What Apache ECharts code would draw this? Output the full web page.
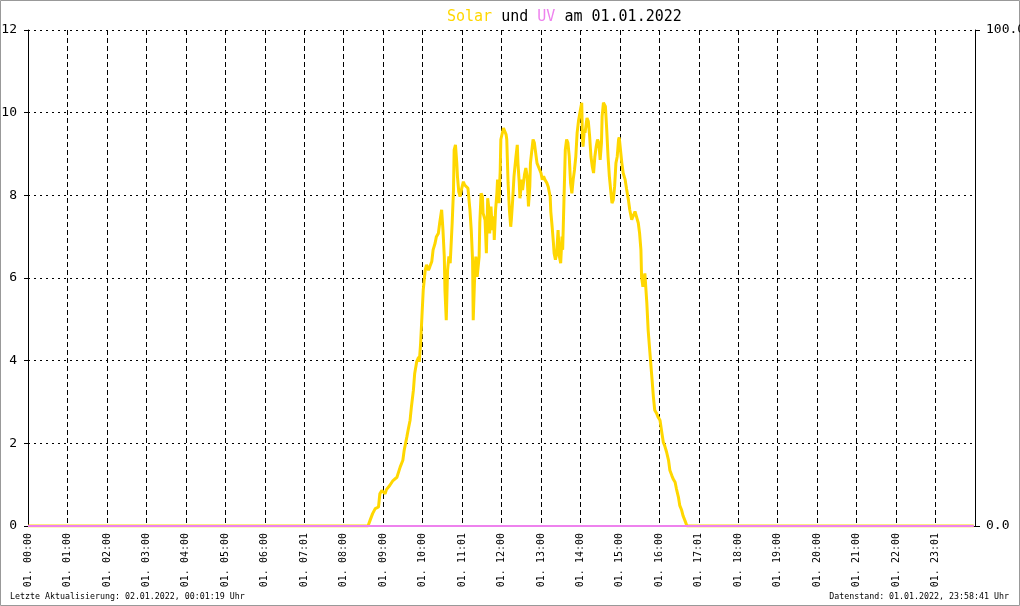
<!DOCTYPE html>
<html>
<head>
<meta charset="utf-8">
<script src="https://cdn.jsdelivr.net/npm/echarts@6/dist/echarts.min.js"></script>
<style>
html,body{margin:0;padding:0;background:#fff;}
#chart{width:1020px;height:606px;}
</style>
</head>
<body>
<div id="chart"></div>
<script>
// ---- data ----
const tickLabels = ["01. 00:00","01. 01:00","01. 02:00","01. 03:00","01. 04:00","01. 05:00","01. 06:00","01. 07:01","01. 08:00","01. 09:00","01. 10:00","01. 11:01","01. 12:00","01. 13:00","01. 14:00","01. 15:00","01. 16:00","01. 17:01","01. 18:00","01. 19:00","01. 20:00","01. 21:00","01. 22:00","01. 23:01"];
const solarTimes = ["00:00","08:37","08:40","08:44","08:48","08:53","08:55","08:58","09:03","09:05","09:10","09:15","09:21","09:26","09:30","09:32","09:36","09:38","09:41","09:43","09:46","09:48","09:51","09:54","09:55","09:57","09:59","10:01","10:04","10:06","10:09","10:11","10:14","10:16","10:19","10:21","10:24","10:26","10:29","10:31","10:33","10:34","10:36","10:38","10:40","10:42","10:43","10:45","10:47","10:48","10:50","10:52","10:53","10:55","10:57","10:59","11:02","11:04","11:07","11:09","11:12","11:14","11:16","11:17","11:19","11:21","11:23","11:26","11:27","11:29","11:31","11:32","11:35","11:37","11:39","11:41","11:42","11:44","11:46","11:48","11:49","11:51","11:53","11:54","11:56","11:58","11:59","12:01","12:03","12:05","12:07","12:08","12:10","12:12","12:14","12:15","12:17","12:19","12:22","12:24","12:25","12:27","12:28","12:31","12:32","12:35","12:37","12:39","12:41","12:43","12:44","12:46","12:48","12:50","12:52","12:54","12:56","12:58","13:00","13:02","13:04","13:06","13:09","13:11","13:14","13:15","13:17","13:19","13:20","13:22","13:24","13:26","13:28","13:30","13:32","13:33","13:35","13:37","13:39","13:41","13:43","13:45","13:47","13:49","13:51","13:53","13:55","13:57","13:58","14:00","14:02","14:03","14:04","14:06","14:07","14:10","14:12","14:14","14:16","14:18","14:20","14:22","14:24","14:26","14:28","14:30","14:32","14:33","14:35","14:36","14:38","14:40","14:42","14:44","14:46","14:48","14:50","14:52","14:54","14:56","14:58","14:59","15:03","15:05","15:08","15:10","15:13","15:15","15:18","15:20","15:23","15:25","15:28","15:30","15:32","15:33","15:35","15:37","15:38","15:41","15:43","15:45","15:47","15:49","15:51","15:53","15:56","15:58","16:01","16:04","16:06","16:08","16:11","16:14","16:16","16:19","16:21","16:24","16:26","16:29","16:31","16:34","16:36","16:39","16:42","23:58"];
const solarValues = [0,0,0.13,0.3,0.42,0.46,0.78,0.86,0.78,0.88,0.98,1.1,1.18,1.43,1.59,1.83,2.15,2.32,2.56,2.88,3.28,3.69,3.97,4.09,3.97,4.42,5.06,5.71,6.19,6.32,6.19,6.27,6.4,6.68,6.84,7.0,7.08,7.33,7.65,7.16,6.52,5.71,4.98,6.19,6.52,6.36,6.68,7.33,8.13,9.1,9.22,8.78,8.46,8.09,7.97,8.13,8.33,8.25,8.21,8.17,7.65,7.16,6.44,4.98,5.95,6.52,6.03,6.52,7.33,8.05,7.97,7.57,7.4,6.6,7.93,7.65,7.08,7.73,7.16,7.49,6.92,7.65,8.05,8.38,7.81,8.58,9.35,9.39,9.63,9.67,9.47,9.35,8.3,7.65,7.24,7.41,7.89,8.46,8.94,9.22,8.78,8.3,7.93,8.38,8.13,8.5,8.66,8.46,7.73,8.21,8.78,8.74,9.35,9.27,9.02,8.78,8.74,8.62,8.54,8.38,8.46,8.38,8.3,8.21,7.97,7.6,7.24,6.84,6.6,6.44,6.6,7.16,6.52,6.36,7.0,6.68,7.89,9.1,9.35,9.27,8.94,8.3,8.05,8.38,8.62,8.94,9.51,9.79,9.75,10.07,10.24,9.43,9.18,9.59,9.51,9.87,9.79,9.43,8.94,8.7,8.54,8.94,9.18,9.35,9.27,8.86,9.27,9.91,10.24,10.27,10.15,9.59,8.94,8.46,8.13,7.81,7.89,8.21,8.78,8.94,9.35,9.4,8.78,8.54,8.38,8.17,7.89,7.65,7.41,7.37,7.61,7.57,7.33,7.08,6.68,6.03,5.79,6.03,6.11,5.39,4.74,4.33,3.93,3.53,3.12,2.8,2.72,2.64,2.56,2.24,2.03,1.95,1.79,1.59,1.35,1.22,1.14,1.06,0.9,0.7,0.5,0.38,0.25,0.13,0,0];
const uvTimes = ["00:00","23:58"];
const uvValues = [0, 0];
const leftTicks = [0,2,4,6,8,10,12];
const rightTicks = [0,100];
const titleDate = "01.01.2022";
const footerLeft = "Letzte Aktualisierung: 02.01.2022, 00:01:19 Uhr";
const footerRight = "Datenstand: 01.01.2022, 23:58:41 Uhr";

// ---- build ----
function toHours(s){ const p = s.split(":"); return +p[0] + (+p[1])/60; }
const solarData = solarTimes.map((t,i)=>[toHours(t), solarValues[i]]);
const uvData = uvTimes.map((t,i)=>[toHours(t), uvValues[i]]);

const MONO = '"DejaVu Sans Mono", "Liberation Mono", monospace';
const chart = echarts.init(document.getElementById('chart'), null, {renderer:'canvas'});
chart.setOption({
  animation: false,
  backgroundColor: '#ffffff',
  title: {
    text: '{s|Solar}{b| und }{u|UV}{b| am ' + titleDate + '}',
    left: 442, top: 5,
    textStyle: {
      fontWeight: 'normal',
      rich: {
        s: {color:'#FFD700', fontFamily: MONO, fontSize: 15, fontWeight: 'normal'},
        b: {color:'#000000', fontFamily: MONO, fontSize: 15, fontWeight: 'normal'},
        u: {color:'#EE82EE', fontFamily: MONO, fontSize: 15, fontWeight: 'normal'}
      }
    }
  },
  grid: {left: 28, right: 45, top: 30, bottom: 80, containLabel: false, outerBoundsMode: 'none'},
  xAxis: {
    type: 'value', min: 0, max: 24, interval: 1,
    axisLine: {show: true, onZero: false, lineStyle: {color: '#000', width: 1}},
    axisTick: {show: false},
    axisLabel: {
      rotate: 90, margin: 7, color: '#000', fontFamily: MONO, fontSize: 10,
      showMaxLabel: false, showMinLabel: true, hideOverlap: false,
      formatter: function(v){ return tickLabels[Math.round(v)] !== undefined ? tickLabels[Math.round(v)] : ''; }
    },
    splitLine: {show: true, lineStyle: {color: '#000', width: 1, type: [5,3]}}
  },
  yAxis: [
    {
      type: 'value', min: leftTicks[0], max: leftTicks[leftTicks.length-1], interval: 2, position: 'left',
      axisLine: {show: true, lineStyle: {color: '#000', width: 1}},
      axisTick: {show: true, length: 4, lineStyle: {color: '#000'}},
      axisLabel: {color: '#000', fontFamily: MONO, fontSize: 13, margin: 11},
      splitLine: {show: true, lineStyle: {color: '#000', width: 1, type: [2,4]}}
    },
    {
      type: 'value', min: rightTicks[0], max: rightTicks[1], interval: 100, position: 'right',
      axisLine: {show: true, lineStyle: {color: '#000', width: 1}},
      axisTick: {show: true, length: 5, lineStyle: {color: '#000'}},
      axisLabel: {color: '#000', fontFamily: MONO, fontSize: 13, margin: 11,
        formatter: function(v){ return v.toFixed(1); }},
      splitLine: {show: false}
    }
  ],
  series: [
    {
      name: 'Solar', type: 'line', yAxisIndex: 0, data: solarData,
      showSymbol: false, symbol: 'none', z: 3,
      lineStyle: {color: '#FFD700', width: 3}
    },
    {
      name: 'UV', type: 'line', yAxisIndex: 1, data: uvData,
      showSymbol: false, symbol: 'none', z: 4,
      lineStyle: {color: '#EE82EE', width: 2}
    }
  ],
  graphic: [
    {type: 'rect', shape: {x: 0.5, y: 0.5, width: 1019, height: 605}, style: {fill: 'none', stroke: '#999', lineWidth: 1}, silent: true},
    {type: 'text', left: 10, top: 593, style: {text: footerLeft, fill: '#000', font: '8.3px ' + MONO}},
    {type: 'text', right: 11, top: 593, style: {text: footerRight, fill: '#000', font: '8.3px ' + MONO, textAlign: 'left'}}
  ]
});
</script>
</body>
</html>
